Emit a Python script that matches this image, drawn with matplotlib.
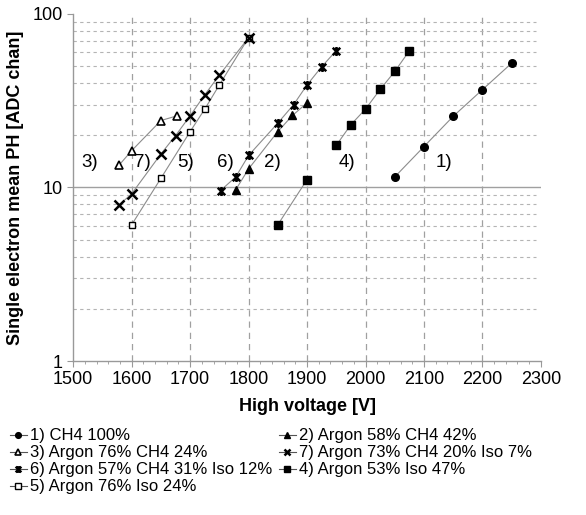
import matplotlib
matplotlib.use("Agg")
import matplotlib.pyplot as plt
from matplotlib.path import Path
from matplotlib.ticker import FixedLocator, MultipleLocator, NullFormatter

plt.rcParams['font.family'] = ['Liberation Sans', 'DejaVu Sans']

# data
v1 = [2050, 2100, 2150, 2200, 2250]
ph1 = [11.5, 17.2, 25.7, 36.6, 52.0]

v2 = [1778, 1800, 1850, 1875, 1900]
ph2 = [9.7, 12.8, 21.0, 26.0, 30.7]

v3 = [1578, 1600, 1650, 1678]
ph3 = [13.4, 16.3, 24.3, 25.9]

v4 = [1850, 1900, 1950, 1975, 2000, 2025, 2050, 2075]
ph4 = [6.1, 11.1, 17.5, 23.0, 28.3, 36.7, 46.6, 61.3]
v4_gap_after = 2  # no line between 2nd and 3rd point

v5 = [1600, 1650, 1700, 1725, 1750, 1800]
ph5 = [6.1, 11.3, 21.0, 28.3, 39.0, 73.0]

v6 = [1752, 1778, 1800, 1850, 1877, 1900, 1925, 1950]
ph6 = [9.6, 11.5, 15.3, 23.5, 30.0, 39.0, 49.6, 61.5]

v7 = [1578, 1600, 1650, 1675, 1700, 1725, 1750, 1800]
ph7 = [7.9, 9.2, 15.6, 19.9, 25.9, 34.2, 44.4, 73.0]

names = ["1) CH4 100%", "2) Argon 58% CH4 42%", "3) Argon 76% CH4 24%",
         "4) Argon 53% Iso 47%", "5) Argon 76% Iso 24%",
         "6) Argon 57% CH4 31% Iso 12%", "7) Argon 73% CH4 20% Iso 7%"]

tags = ["1)", "2)", "3)", "4)", "5)", "6)", "7)"]
tag_x = [2135, 1840, 1528, 1969, 1693, 1761, 1619]
tag_y = [13.9, 13.9, 13.9, 13.9, 13.9, 13.9, 13.9]

star = Path([(-1, -1), (1, 1), (-1, 1), (1, -1), (0, -1.2), (0, 1.2)],
            [Path.MOVETO, Path.LINETO, Path.MOVETO, Path.LINETO, Path.MOVETO, Path.LINETO])

fig = plt.figure(figsize=(5.86, 5.15), dpi=100)
ax = fig.add_axes([0.125, 0.299, 0.798, 0.674])

lc = '#8c8c8c'
styles = [
    dict(marker='o', mfc='k', mec='k', ms=5.5),
    dict(marker='^', mfc='k', mec='k', ms=5.5),
    dict(marker='^', mfc='white', mec='k', ms=5.5, mew=1.2),
    dict(marker='s', mfc='k', mec='k', ms=5.5),
    dict(marker='s', mfc='white', mec='k', ms=5, mew=1.0),
    dict(marker=star, mfc='none', mec='k', ms=6.5, mew=1.8),
    dict(marker='x', mfc='none', mec='k', ms=6.5, mew=1.8),
]
series = [(v1, ph1), (v2, ph2), (v3, ph3), (v4, ph4), (v5, ph5), (v6, ph6), (v7, ph7)]

handles = []
for i, (xs, ys) in enumerate(series):
    st = styles[i]
    if i == 3:
        ax.plot(xs[:v4_gap_after], ys[:v4_gap_after], color=lc, lw=0.8, zorder=2)
        ax.plot(xs[v4_gap_after:], ys[v4_gap_after:], color=lc, lw=0.8, zorder=2)
        ax.plot(xs, ys, ls='none', zorder=3, **st)
    else:
        ax.plot(xs, ys, color=lc, lw=0.8, zorder=2)
        ax.plot(xs, ys, ls='none', zorder=3, **st)
    hs = dict(st)
    hs['ms'] = st['ms'] * 0.75
    h, = ax.plot([], [], color='#555555', lw=0.8, label=names[i], **hs)
    handles.append(h)

for t, x, y in zip(tags, tag_x, tag_y):
    ax.text(x, y, t, fontsize=13.5, ha='center', va='center')

ax.set_yscale('log')
ax.set_xlim(1500, 2300)
ax.set_ylim(1, 100)
ax.xaxis.set_major_locator(MultipleLocator(100))
ax.xaxis.set_minor_locator(MultipleLocator(20))
ax.yaxis.set_major_locator(FixedLocator([1, 10, 100]))
ax.yaxis.set_minor_formatter(NullFormatter())
ax.yaxis.set_major_formatter(plt.FuncFormatter(lambda v, p: '%g' % v))

# grid
for xv in range(1600, 2300, 100):
    ax.axvline(xv, color='#a0a0a0', lw=0.9, ls=(0, (5, 4)), zorder=1)
for dec in [1, 10]:
    for m in range(2, 10):
        ax.axhline(dec * m, color='#b4b4b4', lw=0.8, ls=(0, (3, 3)), zorder=1, xmax=0.99)
ax.axhline(10, color='#a0a0a0', lw=1.0, zorder=1)

for s in ['top', 'right']:
    ax.spines[s].set_visible(False)
for s in ['left', 'bottom']:
    ax.spines[s].set_color('#999999')
    ax.spines[s].set_linewidth(1.0)

ax.tick_params(axis='both', which='major', labelsize=13, color='#999999', length=4, direction='out')
ax.tick_params(axis='x', which='minor', color='#999999', length=2.5, direction='out')
ax.tick_params(axis='y', which='minor', length=0)

ax.set_xlabel('High voltage [V]', fontsize=13, fontweight='bold', labelpad=7)
ax.set_ylabel('Single electron mean PH [ADC chan]', fontsize=13, fontweight='bold', labelpad=6)

order = [0, 2, 5, 4, 1, 6, 3]
fig.legend([handles[k] for k in order], [names[k] for k in order],
           loc='upper left', bbox_to_anchor=(0.017, 0.168), ncol=2, frameon=False,
           fontsize=12, handlelength=1.0, handletextpad=0.2, columnspacing=0.4,
           labelspacing=0.12, borderaxespad=0, borderpad=0)

fig.savefig('out.png', dpi=100)
